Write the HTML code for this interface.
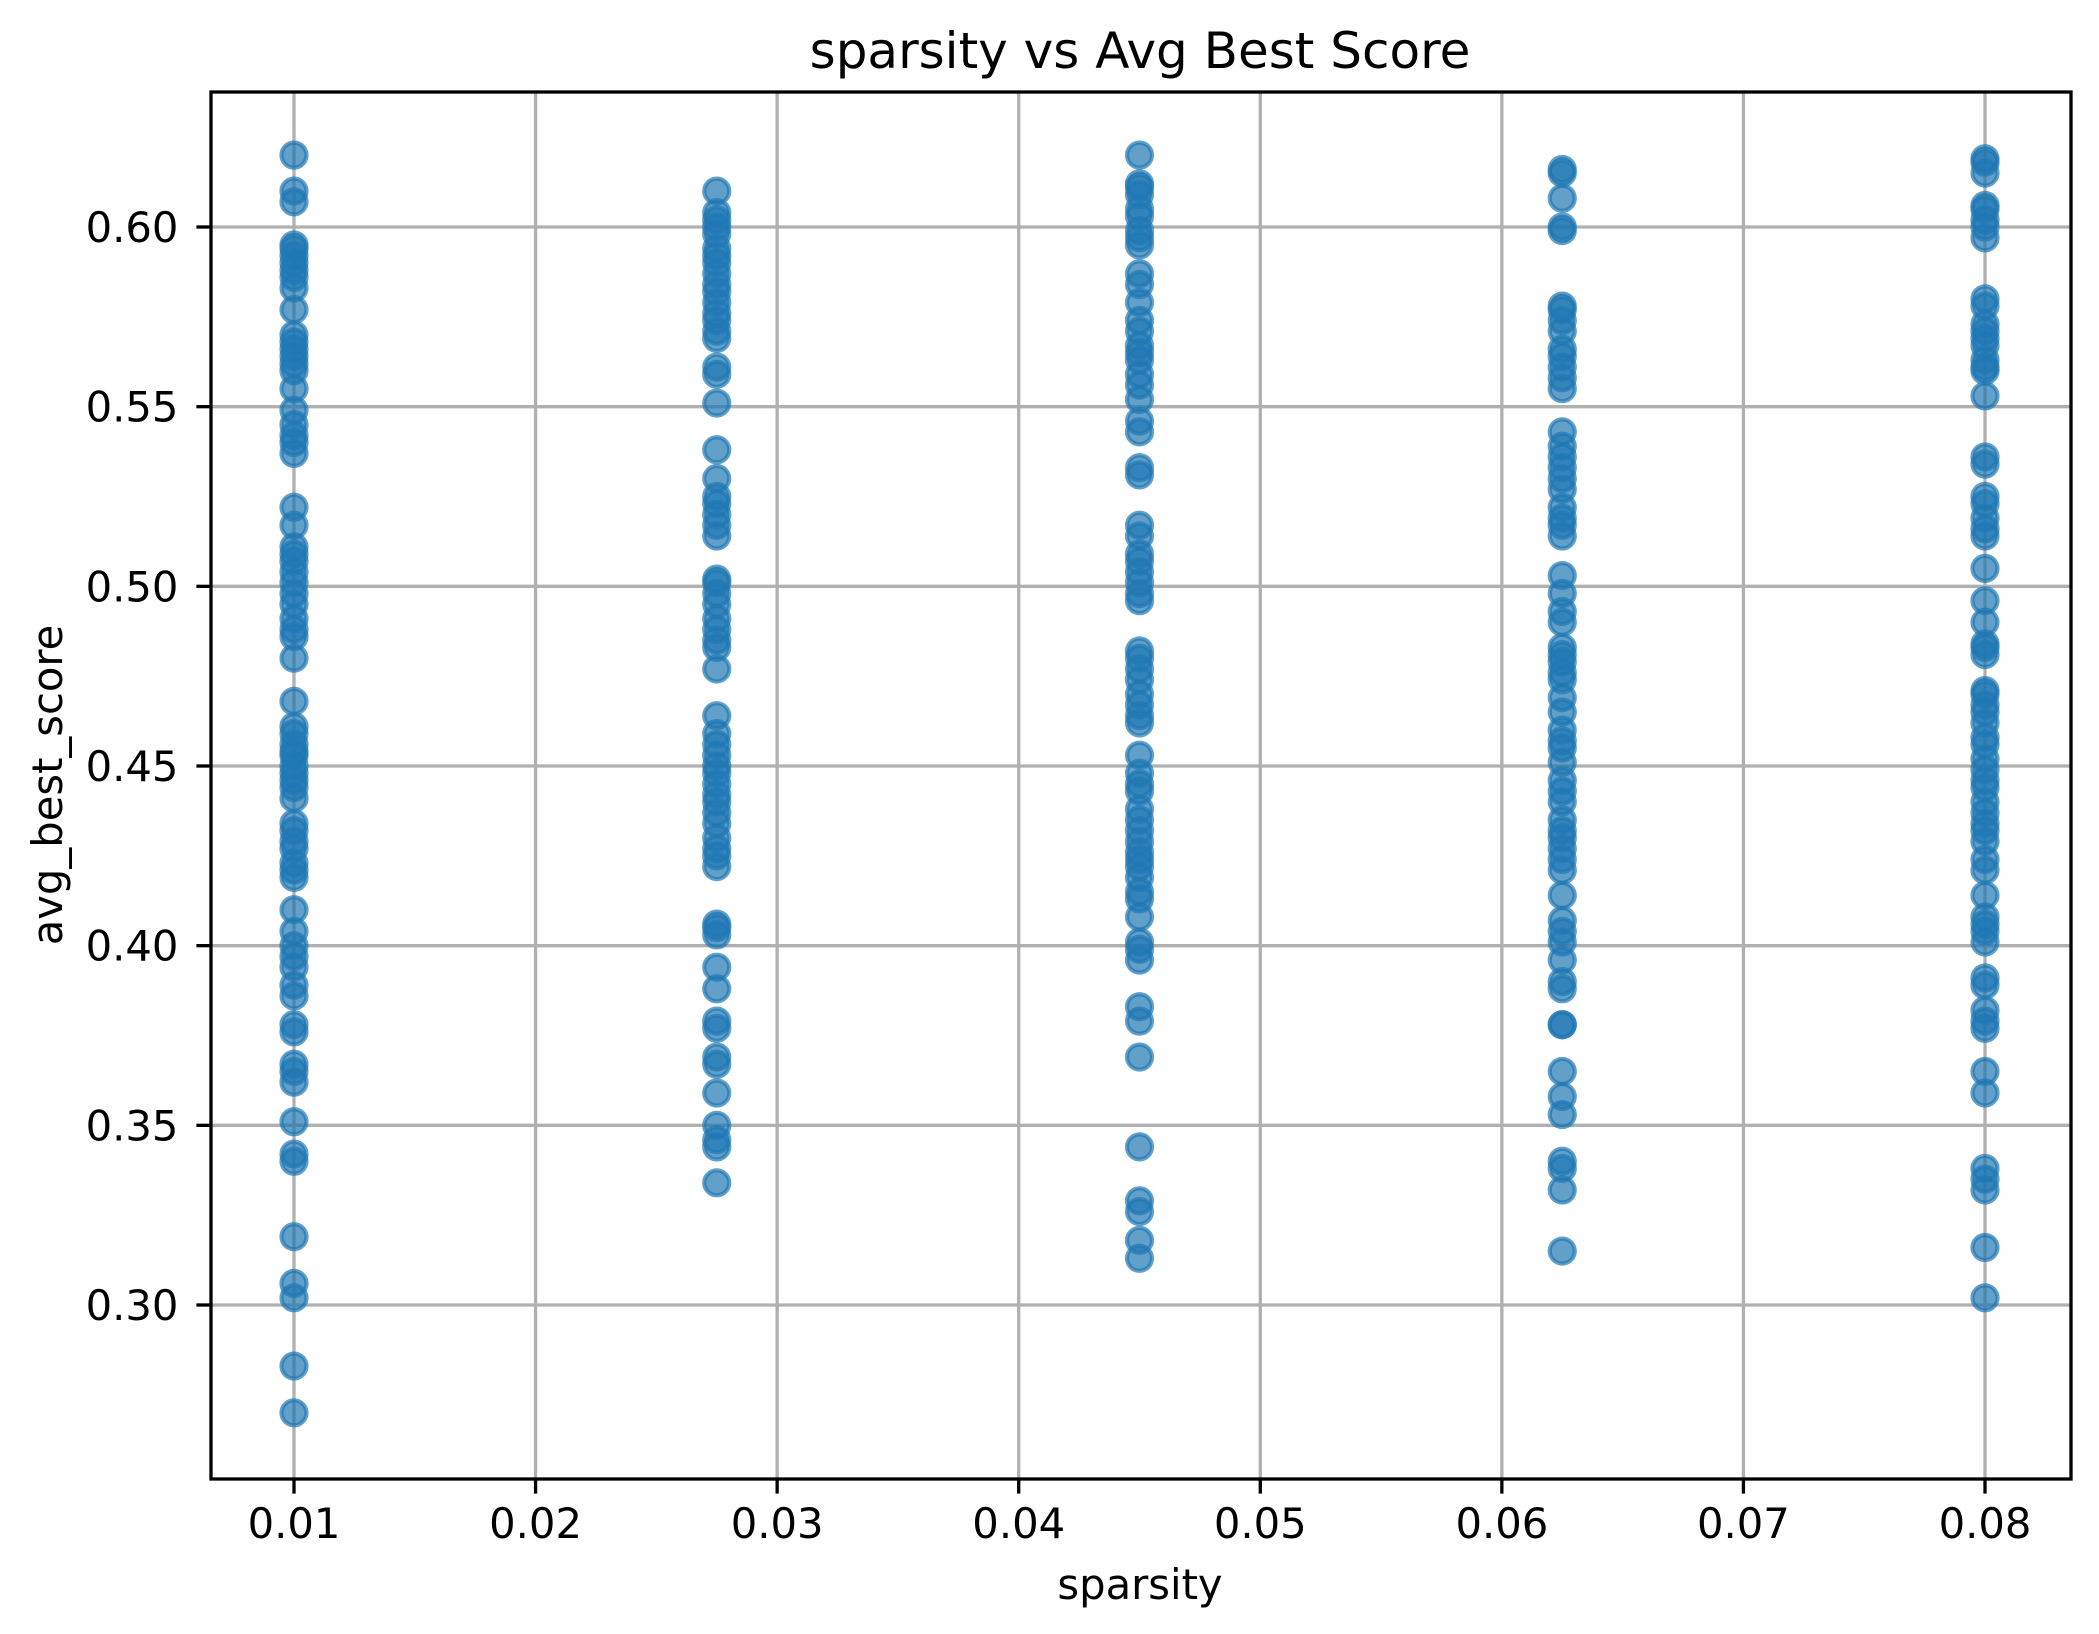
<!DOCTYPE html>
<html><head><meta charset="utf-8"><style>
html,body{margin:0;padding:0;background:#fff}
svg{display:block}
text{font-family:"DejaVu Sans","Liberation Sans",sans-serif;fill:#000}
</style></head><body>
<svg id="chart" width="2099" height="1634" viewBox="0 0 2099 1634" xmlns="http://www.w3.org/2000/svg">
<rect width="2099" height="1634" fill="#fff"/>
<g id="grid"></g>
<g id="points"></g>
<g id="axes"></g>
<text x="1140" y="68" font-size="50" text-anchor="middle">sparsity vs Avg Best Score</text>
<text x="1140" y="1599" font-size="41.7" text-anchor="middle">sparsity</text>
<text transform="translate(62,785) rotate(-90)" font-size="41.7" text-anchor="middle">avg_best_score</text>
</svg>
<script>
const xTicks = [0.01,0.02,0.03,0.04,0.05,0.06,0.07,0.08];
const xTickLabels = ["0.01","0.02","0.03","0.04","0.05","0.06","0.07","0.08"];
const yTicks = [0.30,0.35,0.40,0.45,0.50,0.55,0.60];
const yTickLabels = ["0.30","0.35","0.40","0.45","0.50","0.55","0.60"];
const sparsityValues = [0.01,0.0275,0.045,0.0625,0.08];
const scores001 = [0.620,0.610,0.607,0.595,0.594,0.592,0.590,0.588,0.586,0.583,0.577,0.570,0.568,0.566,0.564,0.562,0.560,0.555,0.549,0.545,0.542,0.540,0.537,0.522,0.517,0.511,0.509,0.507,0.504,0.501,0.498,0.495,0.491,0.488,0.486,0.480,0.468,0.461,0.459,0.456,0.454,0.453,0.450,0.448,0.446,0.444,0.441,0.434,0.432,0.429,0.427,0.423,0.421,0.419,0.410,0.404,0.400,0.397,0.394,0.389,0.386,0.378,0.376,0.367,0.365,0.362,0.351,0.342,0.340,0.319,0.306,0.302,0.283,0.270];
const scores00275 = [0.610,0.604,0.602,0.600,0.598,0.594,0.592,0.590,0.587,0.584,0.582,0.579,0.576,0.574,0.571,0.569,0.561,0.559,0.551,0.538,0.530,0.525,0.523,0.520,0.517,0.514,0.502,0.501,0.498,0.495,0.491,0.488,0.485,0.483,0.477,0.464,0.459,0.456,0.453,0.450,0.448,0.445,0.442,0.440,0.437,0.434,0.430,0.427,0.425,0.422,0.406,0.405,0.403,0.394,0.388,0.379,0.377,0.369,0.367,0.359,0.350,0.346,0.344,0.334];
const scores0045 = [0.620,0.612,0.611,0.609,0.605,0.603,0.599,0.597,0.595,0.587,0.584,0.579,0.574,0.571,0.567,0.565,0.563,0.559,0.556,0.552,0.546,0.543,0.533,0.531,0.517,0.514,0.509,0.507,0.504,0.501,0.498,0.496,0.482,0.480,0.477,0.474,0.470,0.467,0.464,0.462,0.453,0.448,0.445,0.443,0.438,0.435,0.432,0.429,0.426,0.424,0.422,0.419,0.415,0.413,0.408,0.401,0.399,0.396,0.383,0.379,0.369,0.344,0.329,0.326,0.318,0.313];
const scores00625 = [0.616,0.615,0.608,0.600,0.599,0.578,0.577,0.574,0.571,0.566,0.564,0.561,0.558,0.555,0.543,0.539,0.536,0.533,0.530,0.527,0.522,0.519,0.517,0.514,0.503,0.498,0.493,0.490,0.483,0.481,0.479,0.476,0.474,0.469,0.465,0.460,0.457,0.455,0.451,0.446,0.443,0.440,0.435,0.432,0.430,0.427,0.424,0.421,0.414,0.407,0.404,0.401,0.396,0.390,0.388,0.378,0.378,0.365,0.358,0.353,0.340,0.338,0.332,0.315];
const scores008 = [0.619,0.618,0.615,0.606,0.605,0.602,0.600,0.597,0.580,0.578,0.573,0.571,0.569,0.567,0.563,0.561,0.560,0.553,0.536,0.534,0.525,0.523,0.519,0.516,0.514,0.505,0.496,0.490,0.484,0.483,0.481,0.471,0.470,0.467,0.465,0.462,0.458,0.456,0.452,0.449,0.446,0.444,0.440,0.437,0.434,0.432,0.429,0.424,0.421,0.414,0.408,0.406,0.404,0.401,0.391,0.389,0.382,0.379,0.377,0.365,0.359,0.338,0.335,0.332,0.316,0.302];
const seriesScores = [scores001,scores00275,scores0045,scores00625,scores008];

const NS="http://www.w3.org/2000/svg";
const L=211,R=2071,T=92,B=1479;
function xs(v){return 294+(v-0.01)*(1985-294)/0.07;}
function ys(v){return 1305-(v-0.30)*(1305-227)/0.30;}
function mk(tag,attrs,parent){const e=document.createElementNS(NS,tag);for(const k in attrs)e.setAttribute(k,attrs[k]);parent.appendChild(e);return e;}
const grid=document.getElementById('grid'),axes=document.getElementById('axes'),pts=document.getElementById('points');
xTicks.forEach((t,i)=>{
  const x=xs(t);
  const g=mk('line',{x1:x,x2:x,y1:T,y2:B,stroke:'#b0b0b0','stroke-width':3.3},grid);
  
  
  const tk=mk('line',{x1:x,x2:x,y1:B,y2:B+14.6,stroke:'#000','stroke-width':3.3},axes);
  
  
  const tx=mk('text',{x:x,y:B+14.6+14.6+30,'font-size':41.7,'text-anchor':'middle'},axes);
  tx.textContent=xTickLabels[i];
  
  
});
yTicks.forEach((t,i)=>{
  const y=ys(t);
  const g=mk('line',{x1:L,x2:R,y1:y,y2:y,stroke:'#b0b0b0','stroke-width':3.3},grid);
  
  
  const tk=mk('line',{x1:L-14.6,x2:L,y1:y,y2:y,stroke:'#000','stroke-width':3.3},axes);
  
  
  const tx=mk('text',{x:L-14.6-18,y:y+15,'font-size':41.7,'text-anchor':'end'},axes);
  tx.textContent=yTickLabels[i];
  
  
});
const frame=mk('rect',{x:L,y:T,width:R-L,height:B-T,fill:'none',stroke:'#000','stroke-width':3.3},axes);


sparsityValues.forEach((s,si)=>{
  seriesScores[si].forEach(v=>{
    const c=mk('circle',{cx:xs(s),cy:ys(v),r:12.5,fill:'#1f77b4','fill-opacity':0.7,stroke:'#1f77b4','stroke-opacity':0.7,'stroke-width':4.2},pts);
    
    
  });
});
</script>
</body></html>
